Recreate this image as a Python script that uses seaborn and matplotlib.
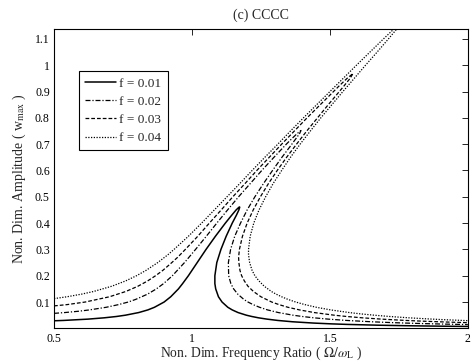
import matplotlib
matplotlib.use('Agg')
import numpy as np
import pandas as pd
import seaborn as sns
import matplotlib.pyplot as plt

# ---- data (frequency ratio, amplitude), path order ----
labels = ['f = 0.01', 'f = 0.02', 'f = 0.03', 'f = 0.04']

f01_x = [0.5, 0.534, 0.623, 0.682, 0.726, 0.759, 0.807, 0.840, 0.864, 0.899, 0.923, 0.951, 0.966, 0.987,
         1.019, 1.051, 1.085, 1.121, 1.144, 1.160, 1.170, 1.1725,
         1.173, 1.170, 1.161, 1.146, 1.124, 1.105, 1.090, 1.083, 1.083, 1.086, 1.096, 1.109, 1.130, 1.146,
         1.167, 1.197, 1.217, 1.241, 1.272, 1.311, 1.364, 1.441, 1.505, 1.560, 1.671, 1.775, 1.841, 1.920, 2.0]
f01_y = [0.0287, 0.03, 0.035, 0.04, 0.045, 0.05, 0.06, 0.07, 0.08, 0.1, 0.12, 0.15, 0.17, 0.2,
         0.25, 0.3, 0.35, 0.4, 0.43, 0.45, 0.46, 0.4615,
         0.46, 0.45, 0.43, 0.4, 0.35, 0.3, 0.25, 0.2, 0.17, 0.15, 0.12, 0.1, 0.08, 0.07,
         0.06, 0.05, 0.045, 0.04, 0.035, 0.03, 0.025, 0.02, 0.017, 0.015, 0.012, 0.01, 0.009, 0.008, 0.00717]

f02_x = [0.5, 0.539, 0.589, 0.628, 0.689, 0.733, 0.769, 0.796, 0.839, 0.871, 0.897, 0.929, 0.973, 1.013,
         1.052, 1.090, 1.129, 1.169, 1.211, 1.253, 1.297, 1.342, 1.361, 1.381, 1.395,
         1.390, 1.376, 1.362, 1.326, 1.292, 1.259, 1.228, 1.200, 1.176, 1.155, 1.140, 1.132, 1.133, 1.141,
         1.151, 1.166, 1.188, 1.203, 1.222, 1.245, 1.274, 1.313, 1.366, 1.400, 1.442, 1.494, 1.561, 1.650,
         1.719, 1.775, 1.841, 1.920, 2.0]
f02_y = [0.0569, 0.06, 0.065, 0.07, 0.08, 0.09, 0.1, 0.11, 0.13, 0.15, 0.17, 0.2, 0.25, 0.3,
         0.35, 0.4, 0.45, 0.5, 0.55, 0.6, 0.65, 0.7, 0.72, 0.74, 0.752,
         0.74, 0.72, 0.7, 0.65, 0.6, 0.55, 0.5, 0.45, 0.4, 0.35, 0.3, 0.25, 0.2, 0.17,
         0.15, 0.13, 0.11, 0.1, 0.09, 0.08, 0.07, 0.06, 0.05, 0.045, 0.04, 0.035, 0.03, 0.025,
         0.022, 0.02, 0.018, 0.016, 0.01433]

f03_x = [0.5, 0.546, 0.613, 0.701, 0.760, 0.804, 0.839, 0.868, 0.894, 0.927, 0.948, 0.976, 1.021, 1.063,
         1.106, 1.148, 1.192, 1.235, 1.280, 1.325, 1.371, 1.417, 1.465, 1.513, 1.532, 1.562, 1.584,
         1.573, 1.550, 1.534, 1.494, 1.455, 1.416, 1.379, 1.343, 1.309, 1.277, 1.248, 1.222, 1.200, 1.183,
         1.172, 1.169, 1.170, 1.174, 1.180, 1.190, 1.203, 1.223, 1.250, 1.289, 1.316, 1.348, 1.390, 1.443,
         1.515, 1.561, 1.617, 1.687, 1.775, 1.841, 1.921, 2.0]
f03_y = [0.0853, 0.09, 0.1, 0.12, 0.14, 0.16, 0.18, 0.2, 0.22, 0.25, 0.27, 0.3, 0.35, 0.4,
         0.45, 0.5, 0.55, 0.6, 0.65, 0.7, 0.75, 0.8, 0.85, 0.9, 0.92, 0.95, 0.969,
         0.95, 0.92, 0.9, 0.85, 0.8, 0.75, 0.7, 0.65, 0.6, 0.55, 0.5, 0.45, 0.4, 0.35,
         0.3, 0.27, 0.25, 0.22, 0.2, 0.18, 0.16, 0.14, 0.12, 0.1, 0.09, 0.08, 0.07, 0.06,
         0.05, 0.045, 0.04, 0.035, 0.03, 0.027, 0.024, 0.0215]

f04_x = [0.5, 0.514, 0.547, 0.600, 0.643, 0.709, 0.759, 0.799, 0.833, 0.876, 0.913, 0.935, 0.987, 1.035,
         1.081, 1.127, 1.173, 1.218, 1.264, 1.311, 1.357, 1.404, 1.452, 1.500, 1.548, 1.596, 1.645, 1.694,
         1.734, 1.745, 1.756,
         1.752, 1.744, 1.712, 1.671, 1.629, 1.588, 1.547, 1.507, 1.467, 1.429, 1.392, 1.357, 1.325, 1.294,
         1.267, 1.243, 1.224, 1.211, 1.205, 1.205, 1.209, 1.218, 1.228, 1.243, 1.262, 1.288, 1.305, 1.325,
         1.348, 1.376, 1.410, 1.451, 1.503, 1.570, 1.611, 1.660, 1.717, 1.786, 1.853, 1.911, 2.0]
f04_y = [0.1131, 0.115, 0.12, 0.13, 0.14, 0.16, 0.18, 0.2, 0.22, 0.25, 0.28, 0.3, 0.35, 0.4,
         0.45, 0.5, 0.55, 0.6, 0.65, 0.7, 0.75, 0.8, 0.85, 0.9, 0.95, 1.0, 1.05, 1.1,
         1.14, 1.15, 1.158,
         1.15, 1.14, 1.1, 1.05, 1.0, 0.95, 0.9, 0.85, 0.8, 0.75, 0.7, 0.65, 0.6, 0.55,
         0.5, 0.45, 0.4, 0.35, 0.3, 0.28, 0.25, 0.22, 0.2, 0.18, 0.16, 0.14, 0.13, 0.12,
         0.11, 0.1, 0.09, 0.08, 0.07, 0.06, 0.055, 0.05, 0.045, 0.04, 0.036, 0.033, 0.0292]

x_ticks = [0.5, 1, 1.5, 2]
x_ticklabels = ['0.5', '1', '1.5', '2']
y_ticks = [0.1, 0.2, 0.3, 0.4, 0.5, 0.6, 0.7, 0.8, 0.9, 1.0, 1.1]
y_ticklabels = ['0.1', '0.2', '0.3', '0.4', '0.5', '0.6', '0.7', '0.8', '0.9', '1', '1.1']

series = [(labels[0], f01_x, f01_y), (labels[1], f02_x, f02_y),
          (labels[2], f03_x, f03_y), (labels[3], f04_x, f04_y)]
frames = []
for lab, xs, ys in series:
    frames.append(pd.DataFrame({'ratio': xs, 'amp': ys, 'f': lab}))
df = pd.concat(frames, ignore_index=True)

sns.set_theme(style='white')
plt.rcParams['font.family'] = ['Liberation Serif', 'DejaVu Serif']
plt.rcParams['mathtext.fontset'] = 'stix'

fig = plt.figure(figsize=(4.74, 3.62), dpi=100)
ax = fig.add_axes([0.114, 0.093, 0.873, 0.827])

line_styles = {
    labels[0]: dict(ls='-', dashes=None, lw=1.1),
    labels[1]: dict(ls='-.', dashes=(4, 1.5, 1, 1.5), lw=0.9),
    labels[2]: dict(ls='--', dashes=(3, 1.6), lw=0.9),
    labels[3]: dict(ls=':', dashes=(1, 1.2), lw=0.9),
}
for lab in labels:
    sub = df[df['f'] == lab]
    st = line_styles[lab]
    sns.lineplot(data=sub, x='ratio', y='amp', sort=False, estimator=None,
                 color='black', linewidth=st['lw'], linestyle=st['ls'], ax=ax, label=lab)
    if st['dashes'] is not None:
        ax.lines[-1].set_dashes(st['dashes'])

ax.set_xlim(0.5, 2)
ax.set_ylim(0.0, 1.138)
ax.set_xticks(x_ticks)
ax.set_xticklabels(x_ticklabels)
ax.set_yticks(y_ticks)
ax.set_yticklabels(y_ticklabels)
ax.tick_params(direction='in', top=True, right=True, length=4, width=0.6,
               labelsize=8.5, colors='black', pad=3)
for sp in ax.spines.values():
    sp.set_color('black')
    sp.set_linewidth(0.8)

ax.set_title('(c) CCCC', fontsize=10, pad=7)
ax.set_xlabel(r'Non. Dim. Frequency Ratio ( $\Omega/\omega_{\rm L}$ )', fontsize=9.8, labelpad=0)
ax.set_ylabel(r'Non. Dim. Amplitude ( w$_{\rm max}$ )', fontsize=10, labelpad=5)

leg = ax.legend(loc='upper left', bbox_to_anchor=(0.045, 0.88), fontsize=9.5,
                frameon=True, fancybox=False, edgecolor='black', framealpha=1,
                handlelength=2.3, handletextpad=0.3, labelspacing=0.45, borderpad=0.45)
leg.get_frame().set_linewidth(0.8)

fig.savefig('out.png', dpi=100)
